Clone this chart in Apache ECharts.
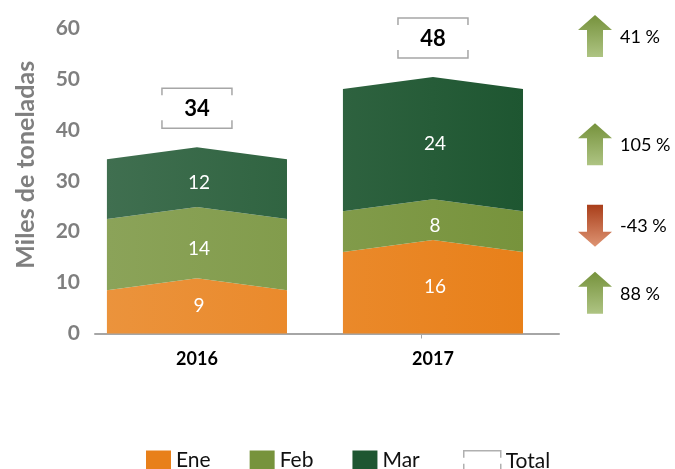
<!DOCTYPE html>
<html>
<head>
<meta charset="utf-8">
<script src="https://cdn.jsdelivr.net/npm/echarts@6/dist/echarts.min.js"></script>
<style>
  html, body { margin: 0; padding: 0; background: #fff; }
  #chart { width: 675px; height: 469px; }
</style>
</head>
<body>
<div id="chart"></div>
<script>
// datos (miles de toneladas)
var years = ["2016", "2017"];
var ene = [8.5, 16.0];
var feb = [14.0, 8.0];
var mar = [11.7, 24.0];
var changePct = [88, -43, 105, 41]; // Ene, Feb, Mar, Total
var yMax = 60;
var yStep = 10;

var totals = years.map(function (y, i) { return ene[i] + feb[i] + mar[i]; });

var FONT = "Lato, 'Noto Sans', sans-serif";
var PEAK = 12;        // altura del pico de cada segmento (px)
var BAR_RATIO = 0.763;
var BOX_OFFSET = 51;  // separación de la caja del total (px)

function mix(hex, t) {
  var r = parseInt(hex.substr(1, 2), 16), g = parseInt(hex.substr(3, 2), 16), b = parseInt(hex.substr(5, 2), 16);
  r = Math.round(r + (255 - r) * t);
  g = Math.round(g + (255 - g) * t);
  b = Math.round(b + (255 - b) * t);
  return "rgb(" + r + "," + g + "," + b + ")";
}

function segSeries(name, values, bases, first, color) {
  return {
    name: name,
    type: "custom",
    itemStyle: { color: color },
    data: years.map(function (y, i) { return [i, bases[i], values[i]]; }),
    renderItem: function (params, api) {
      var i = api.value(0), b = api.value(1), v = api.value(2);
      var top = api.coord([i, b + v]);
      var bot = api.coord([i, b]);
      var w = api.size([1, 0])[0] * BAR_RATIO;
      var xc = top[0], xl = xc - w / 2, xr = xc + w / 2;
      var yt = top[1], yb = bot[1];
      var pts = [[xl, yt], [xc, yt - PEAK], [xr, yt], [xr, yb]];
      if (!first) pts.push([xc, yb - PEAK]);
      pts.push([xl, yb]);
      var light = i === 0 ? [0.15, 0.08] : [0.07, 0];
      return {
        type: "group",
        children: [
          {
            type: "polygon",
            shape: { points: pts },
            style: {
              fill: {
                type: "linear", x: 0, y: 0, x2: 1, y2: 0,
                colorStops: [
                  { offset: 0, color: mix(color, light[0]) },
                  { offset: 1, color: mix(color, light[1]) }
                ]
              }
            }
          },
          {
            type: "text",
            style: {
              text: String(Math.round(v)),
              x: xc + 2,
              y: (yt + yb) / 2 - PEAK / 2,
              fill: "#fff",
              fontSize: 19,
              fontFamily: FONT,
              align: "center",
              verticalAlign: "middle"
            }
          }
        ]
      };
    }
  };
}

var febBase = ene.slice();
var marBase = ene.map(function (v, i) { return v + feb[i]; });

var totalSeries = {
  name: "Total",
  type: "custom",
  itemStyle: { color: "#a6a6a6" },
  data: years.map(function (y, i) { return [i, totals[i]]; }),
  renderItem: function (params, api) {
    var c = api.coord([api.value(0), api.value(1)]);
    var cx = c[0], cy = c[1] - BOX_OFFSET;
    var x1 = cx - 35, x2 = cx + 35, yT = cy - 20, yB = cy + 20;
    var line = { stroke: "#a6a6a6", lineWidth: 1.5, fill: null };
    return {
      type: "group",
      children: [
        { type: "polyline", shape: { points: [[x1, yT + 7], [x1, yT], [x2, yT], [x2, yT + 7]] }, style: line },
        { type: "polyline", shape: { points: [[x1, yB - 8], [x1, yB], [x2, yB], [x2, yB - 8]] }, style: line },
        {
          type: "text",
          style: {
            text: String(Math.round(api.value(1))),
            x: cx, y: cy + 1,
            fill: "#000",
            fontSize: 22,
            fontWeight: "bold",
            fontFamily: FONT,
            align: "center",
            verticalAlign: "middle"
          }
        }
      ]
    };
  }
};

// flechas de variación 2017 vs 2016, a la altura de cada segmento de 2017
var arrowData = [
  [1, ene[1] / 2, changePct[0], 0],
  [1, ene[1] + feb[1] / 2, changePct[1], 1],
  [1, ene[1] + feb[1] + mar[1] / 2, changePct[2], 1],
  [1, totals[1], changePct[3], 2]
];

var arrowSeries = {
  type: "custom",
  silent: true,
  data: arrowData,
  renderItem: function (params, api) {
    var kind = api.value(3);
    var pct = api.value(2);
    var y = api.coord([api.value(0), api.value(1)])[1];
    if (kind === 1) y -= PEAK / 2;
    if (kind === 2) y -= BOX_OFFSET + 2;
    var cx = params.coordSys.x + params.coordSys.width + 36;
    var up = pct >= 0;
    var h = 21, hw = 17, sw = 8, hh = 15;
    var pts;
    if (up) {
      pts = [[cx, y - h], [cx + hw, y - h + hh], [cx + sw, y - h + hh], [cx + sw, y + h],
             [cx - sw, y + h], [cx - sw, y - h + hh], [cx - hw, y - h + hh]];
    } else {
      pts = [[cx, y + h], [cx + hw, y + h - hh], [cx + sw, y + h - hh], [cx + sw, y - h],
             [cx - sw, y - h], [cx - sw, y + h - hh], [cx - hw, y + h - hh]];
    }
    var stops = up
      ? [{ offset: 0, color: "#76923C" }, { offset: 1, color: "#AEC483" }]
      : [{ offset: 0, color: "#A93E1A" }, { offset: 1, color: "#DE9473" }];
    return {
      type: "group",
      children: [
        {
          type: "polygon",
          shape: { points: pts },
          style: { fill: { type: "linear", x: 0, y: 0, x2: 0, y2: 1, colorStops: stops } }
        },
        {
          type: "text",
          style: {
            text: pct + " %",
            x: cx + 25, y: y + 1,
            fill: "#000",
            fontSize: 18,
            fontFamily: FONT,
            align: "left",
            verticalAlign: "middle"
          }
        }
      ]
    };
  }
};

var myChart = echarts.init(document.getElementById("chart"));
var option = {
  animation: false,
  textStyle: { fontFamily: FONT },
  grid: { left: 95, right: 116, top: 28, bottom: 135.5 },
  legend: [
    {
      data: ["Ene", "Feb", "Mar"],
      left: 141,
      top: 445,
      icon: "rect",
      itemWidth: 25,
      itemHeight: 20,
      itemGap: 39,
      textStyle: { fontSize: 21, color: "#111", fontFamily: FONT }
    },
    {
      data: [{
        name: "Total",
        icon: "path://M0,7V0H37V7M0,13V20H37V13",
        itemStyle: { color: "rgba(0,0,0,0)", borderColor: "#b0b0b0", borderWidth: 1.5 }
      }],
      left: 458,
      top: 445,
      itemWidth: 37,
      itemHeight: 20,
      textStyle: { fontSize: 21, color: "#111", fontFamily: FONT }
    }
  ],
  xAxis: {
    type: "value",
    min: -0.432,
    max: 1.534,
    splitLine: { show: false },
    axisLine: { show: true, lineStyle: { color: "#a6a6a6", width: 2 } },
    axisTick: { show: true, customValues: [0.95], length: 5, lineStyle: { color: "#a6a6a6" } },
    axisLabel: {
      customValues: [0, 1],
      formatter: function (v) { return years[Math.round(v)]; },
      fontSize: 18,
      fontWeight: "bold",
      color: "#000",
      margin: 17
    }
  },
  yAxis: {
    type: "value",
    min: 0,
    max: yMax,
    interval: yStep,
    name: "Miles de toneladas",
    nameLocation: "middle",
    nameGap: 57,
    nameTextStyle: { fontSize: 25, fontWeight: "bold", color: "#7f7f7f", padding: [0, 0, 0, 32] },
    splitLine: { show: false },
    axisLine: { show: false },
    axisTick: { show: false },
    axisLabel: { fontSize: 21, fontWeight: "bold", color: "#7f7f7f", margin: 15 }
  },
  series: [
    segSeries("Ene", ene, [0, 0], true, "#E8801A"),
    segSeries("Feb", feb, febBase, false, "#77933C"),
    segSeries("Mar", mar, marBase, false, "#1E5631"),
    totalSeries,
    arrowSeries
  ]
};
myChart.setOption(option);
</script>
</body>
</html>
